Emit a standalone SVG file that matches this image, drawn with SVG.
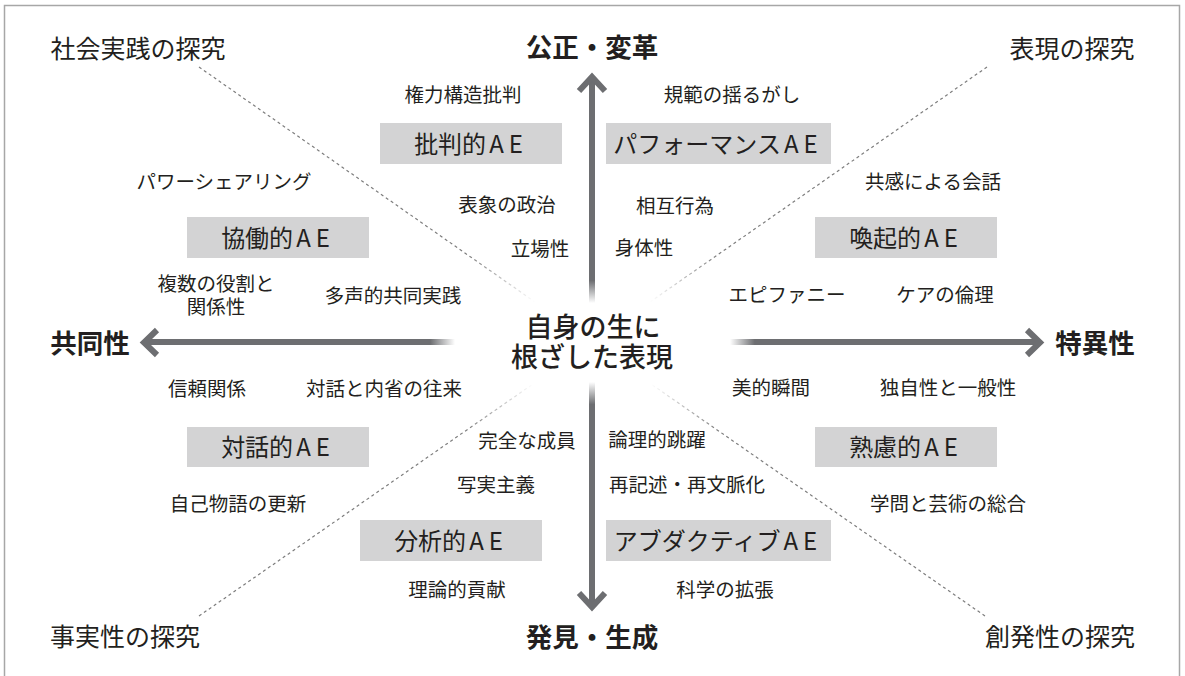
<svg xmlns="http://www.w3.org/2000/svg" width="1185" height="676" viewBox="0 0 1185 676">
<style>
text{font-family:"Noto Sans CJK JP","Noto Sans CJK SC",sans-serif;fill:#231f20;text-anchor:middle}
.lbl{font-size:19.5px}
.ttl{font-size:25px}
.axis{font-size:26.5px;font-weight:700}
.ctr{font-size:27px;font-weight:500}
.boxt{font-size:24px}
.box{fill:#d3d3d4}
.dash{fill:none;stroke-width:1.2;stroke-dasharray:3 3}
.shaft{fill:none;stroke-width:6}
.head{fill:none;stroke:#6d6e71;stroke-width:6;stroke-linejoin:miter;stroke-linecap:butt}
</style>
<defs>
<linearGradient id="gU" gradientUnits="userSpaceOnUse" x1="0" y1="303" x2="0" y2="78"><stop offset="0" stop-color="#fff"/><stop offset="0.1" stop-color="#6d6e71"/><stop offset="1" stop-color="#6d6e71"/></linearGradient>
<linearGradient id="gD" gradientUnits="userSpaceOnUse" x1="0" y1="382" x2="0" y2="606"><stop offset="0" stop-color="#fff"/><stop offset="0.1" stop-color="#6d6e71"/><stop offset="1" stop-color="#6d6e71"/></linearGradient>
<linearGradient id="gL" gradientUnits="userSpaceOnUse" x1="455" y1="0" x2="145" y2="0"><stop offset="0" stop-color="#fff"/><stop offset="0.08" stop-color="#6d6e71"/><stop offset="1" stop-color="#6d6e71"/></linearGradient>
<linearGradient id="gR" gradientUnits="userSpaceOnUse" x1="730" y1="0" x2="1039" y2="0"><stop offset="0" stop-color="#fff"/><stop offset="0.08" stop-color="#6d6e71"/><stop offset="1" stop-color="#6d6e71"/></linearGradient>
<linearGradient id="dTL" gradientUnits="userSpaceOnUse" x1="535" y1="302" x2="199" y2="67"><stop offset="0" stop-color="#fff"/><stop offset="0.2" stop-color="#7d7d7d"/><stop offset="1" stop-color="#7d7d7d"/></linearGradient>
<linearGradient id="dTR" gradientUnits="userSpaceOnUse" x1="650" y1="302" x2="987" y2="67"><stop offset="0" stop-color="#fff"/><stop offset="0.2" stop-color="#7d7d7d"/><stop offset="1" stop-color="#7d7d7d"/></linearGradient>
<linearGradient id="dBL" gradientUnits="userSpaceOnUse" x1="533" y1="384" x2="199" y2="616"><stop offset="0" stop-color="#fff"/><stop offset="0.2" stop-color="#7d7d7d"/><stop offset="1" stop-color="#7d7d7d"/></linearGradient>
<linearGradient id="dBR" gradientUnits="userSpaceOnUse" x1="651" y1="384" x2="985" y2="616"><stop offset="0" stop-color="#fff"/><stop offset="0.2" stop-color="#7d7d7d"/><stop offset="1" stop-color="#7d7d7d"/></linearGradient>
</defs>
<rect x="0" y="0" width="1185" height="676" fill="#fff"/>
<path d="M4.5,680 V5.5 H1179.5 V680" fill="none" stroke="#a7a7a7" stroke-width="1.5"/>

<g id="connectors">
<line class="dash" x1="199" y1="67" x2="535" y2="302" stroke="url(#dTL)"/>
<line class="dash" x1="987" y1="67" x2="650" y2="302" stroke="url(#dTR)"/>
<line class="dash" x1="199" y1="616" x2="533" y2="384" stroke="url(#dBL)"/>
<line class="dash" x1="985" y1="616" x2="651" y2="384" stroke="url(#dBR)"/>
<line class="shaft" x1="592" y1="303" x2="592" y2="79" stroke="url(#gU)"/>
<polyline class="head" points="579,91 592,77 605,91"/>
<line class="shaft" x1="592" y1="382" x2="592" y2="605" stroke="url(#gD)"/>
<polyline class="head" points="579,593 592,607 605,593"/>
<line class="shaft" x1="455" y1="342" x2="146" y2="342" stroke="url(#gL)"/>
<polyline class="head" points="157,330 144,342.5 157,355"/>
<line class="shaft" x1="730" y1="342" x2="1038" y2="342" stroke="url(#gR)"/>
<polyline class="head" points="1027,330 1040,342.5 1027,355"/>
</g>

<g id="center"><text class="ctr" x="593" y="337">自身の生に<tspan x="592" dy="30">根ざした表現</tspan></text></g>

<g id="axis-top"><text class="axis" x="592" y="57">公正・変革</text></g>
<g id="axis-bottom"><text class="axis" x="592" y="647">発見・生成</text></g>
<g id="axis-left"><text class="axis" x="90" y="353">共同性</text></g>
<g id="axis-right"><text class="axis" x="1095" y="353">特異性</text></g>

<g id="corner-tl"><text class="ttl" x="138" y="58">社会実践の探究</text></g>
<g id="corner-tr"><text class="ttl" x="1072" y="58">表現の探究</text></g>
<g id="corner-bl"><text class="ttl" x="125" y="646">事実性の探究</text></g>
<g id="corner-br"><text class="ttl" x="1060" y="646">創発性の探究</text></g>

<g id="critical"><rect class="box" x="380" y="123" width="182" height="41"/><text class="boxt" x="471" y="153">批判的<tspan dx="3" letter-spacing="5">AE</tspan></text></g>
<g id="performance"><rect class="box" x="606" y="123" width="225" height="41"/><text class="boxt" x="718" y="153">パフォーマンス<tspan dx="3" letter-spacing="5">AE</tspan></text></g>
<g id="collaborative"><rect class="box" x="187" y="217" width="182" height="41"/><text class="boxt" x="278" y="247">協働的<tspan dx="3" letter-spacing="5">AE</tspan></text></g>
<g id="evocative"><rect class="box" x="815" y="217" width="182" height="41"/><text class="boxt" x="906" y="247">喚起的<tspan dx="3" letter-spacing="5">AE</tspan></text></g>
<g id="dialogic"><rect class="box" x="187" y="427" width="182" height="40"/><text class="boxt" x="278" y="456">対話的<tspan dx="3" letter-spacing="5">AE</tspan></text></g>
<g id="deliberative"><rect class="box" x="815" y="427" width="182" height="40"/><text class="boxt" x="906" y="456">熟慮的<tspan dx="3" letter-spacing="5">AE</tspan></text></g>
<g id="analytic"><rect class="box" x="360" y="520" width="182" height="41"/><text class="boxt" x="451" y="550">分析的<tspan dx="3" letter-spacing="5">AE</tspan></text></g>
<g id="abductive"><rect class="box" x="606" y="520" width="225" height="41"/><text class="boxt" x="718" y="550">アブダクティブ<tspan dx="3" letter-spacing="5">AE</tspan></text></g>

<g id="labels">
<text class="lbl" x="463" y="102">権力構造批判</text>
<text class="lbl" x="732" y="102">規範の揺るがし</text>
<text class="lbl" x="224" y="189">パワーシェアリング</text>
<text class="lbl" x="933" y="189">共感による会話</text>
<text class="lbl" x="507" y="212">表象の政治</text>
<text class="lbl" x="675" y="213">相互行為</text>
<text class="lbl" x="540" y="256">立場性</text>
<text class="lbl" x="644" y="255">身体性</text>
<text class="lbl" x="216" y="291">複数の役割と<tspan x="216" dy="23">関係性</tspan></text>
<text class="lbl" x="393" y="303">多声的共同実践</text>
<text class="lbl" x="787" y="302">エピファニー</text>
<text class="lbl" x="945" y="302">ケアの倫理</text>
<text class="lbl" x="207" y="396">信頼関係</text>
<text class="lbl" x="384" y="396">対話と内省の往来</text>
<text class="lbl" x="771" y="395">美的瞬間</text>
<text class="lbl" x="948" y="395">独自性と一般性</text>
<text class="lbl" x="527" y="448">完全な成員</text>
<text class="lbl" x="657" y="447">論理的跳躍</text>
<text class="lbl" x="496" y="492">写実主義</text>
<text class="lbl" x="687" y="492">再記述・再文脈化</text>
<text class="lbl" x="238" y="511">自己物語の更新</text>
<text class="lbl" x="948" y="511">学問と芸術の総合</text>
<text class="lbl" x="457" y="597">理論的貢献</text>
<text class="lbl" x="725" y="597">科学の拡張</text>
</g>
</svg>
